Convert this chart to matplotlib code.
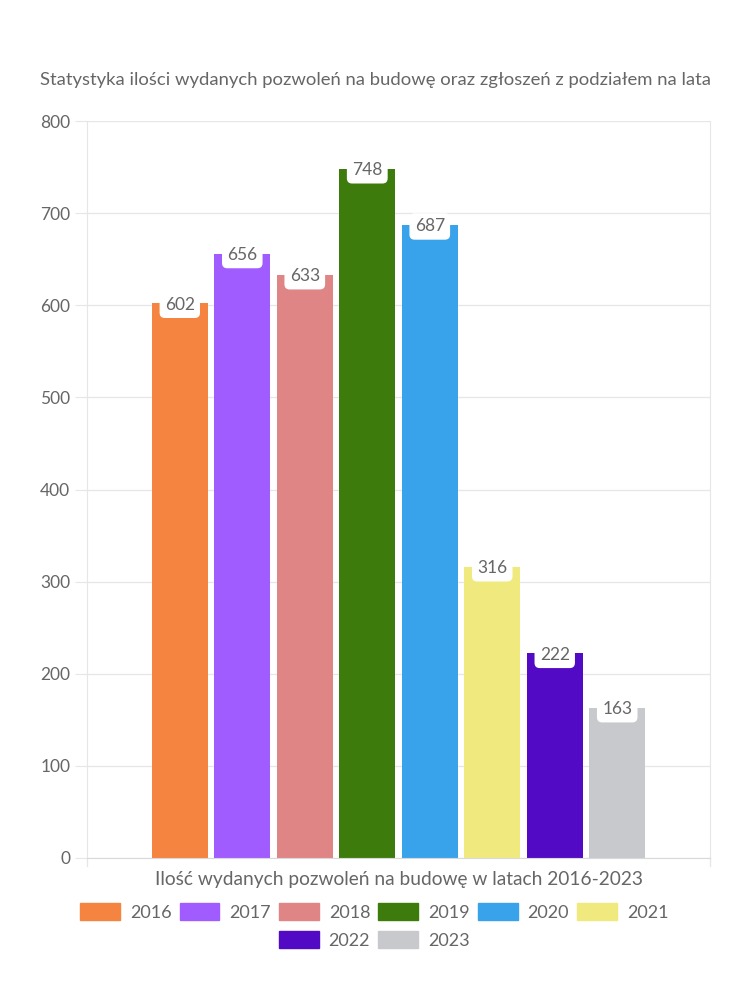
import matplotlib
matplotlib.use("Agg")
import matplotlib.pyplot as plt
from matplotlib.patches import Patch

years = ["2016", "2017", "2018", "2019", "2020", "2021", "2022", "2023"]
values = [602, 656, 633, 748, 687, 316, 222, 163]
colors = ["#F4843F", "#A15CFF", "#E08585", "#3D7C0C", "#38A3EB", "#F0EA7E", "#520AC4", "#C8C9CD"]
yticks = [0, 100, 200, 300, 400, 500, 600, 700, 800]
title = "Statystyka ilości wydanych pozwoleń na budowę oraz zgłoszeń z podziałem na lata"
xlabel = "Ilość wydanych pozwoleń na budowę w latach 2016-2023"

plt.rcParams['font.family'] = ['Lato', 'DejaVu Sans']
TXT = "#666666"
GRID = "#e6e6e6"

fig = plt.figure(figsize=(7.5, 10), dpi=100)
ax = fig.add_axes([0.116, 0.142, 0.8307, 0.737])

pos = list(range(len(years)))
bars = ax.bar(pos, values, width=0.9, color=colors, zorder=2)

ax.set_xlim(-1.485, 8.485)
ax.set_ylim(0, 800)
ax.set_yticks(yticks)
ax.set_yticklabels([str(t) for t in yticks], fontsize=12.5, color=TXT)
ax.tick_params(axis='y', length=9, color=GRID, pad=3)
ax.set_xticks([])
ax.grid(axis='y', color=GRID, linewidth=0.9, zorder=0)
for s in ["left", "right", "bottom", "top"]:
    ax.spines[s].set_color(GRID)
ax.spines["top"].set_visible(False)
ax.spines["bottom"].set_color("#d9d9d9")

# x-axis end ticks
for xe in ax.get_xlim():
    ax.plot([xe, xe], [0, -9], color=GRID, lw=0.9, clip_on=False, transform=ax.transData)

for b, v in zip(bars, values):
    ax.annotate(str(v), (b.get_x() + b.get_width() / 2, v), xytext=(0, -1),
                textcoords="offset points", ha="center", va="center",
                fontsize=12.5, color=TXT, zorder=5,
                bbox=dict(boxstyle="round,pad=0.3,rounding_size=0.3", fc="white", ec="none"))

fig.text(0.5, 0.92, title, ha="center", va="center", fontsize=13.3, color=TXT)
fig.text(0.532, 0.12, xlabel, ha="center", va="center", fontsize=13.8, color=TXT)

h1 = [Patch(color=c) for c in colors[:6]]
h2 = [Patch(color=c) for c in colors[6:]]
kw = dict(frameon=False, fontsize=13, handlelength=2.2, handleheight=1.0,
          handletextpad=0.55, columnspacing=0.45, labelcolor=TXT, borderpad=0, borderaxespad=0)
leg1 = fig.legend(h1, years[:6], ncol=6, loc="center", bbox_to_anchor=(0.499, 0.088), **kw)
leg2 = fig.legend(h2, years[6:], ncol=2, loc="center", bbox_to_anchor=(0.499, 0.060), **kw)

fig.savefig("out.png", dpi=100, facecolor="white")
